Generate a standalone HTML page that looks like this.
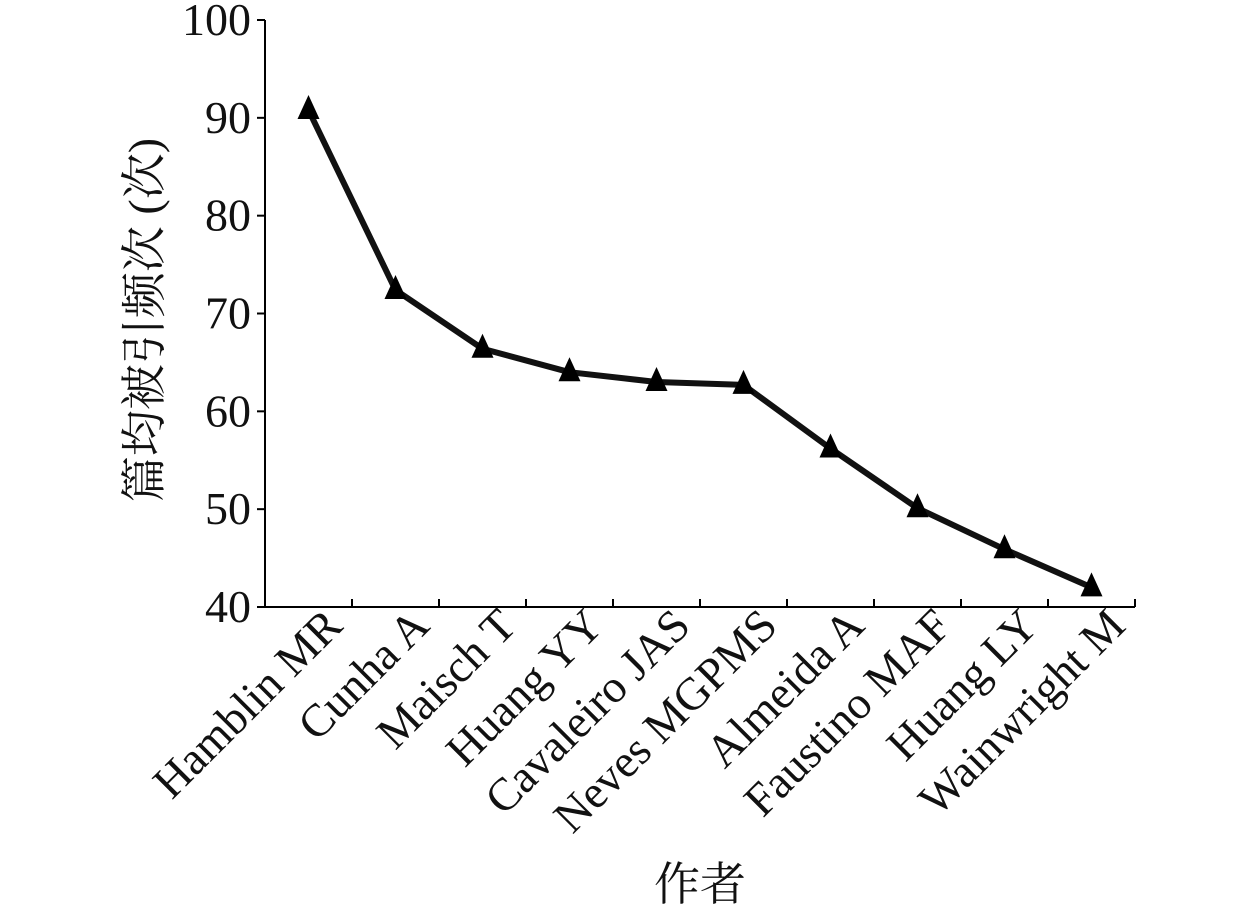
<!DOCTYPE html>
<html><head><meta charset="utf-8"><style>
html,body{margin:0;padding:0;background:#fff;}
svg{display:block;font-family:"Liberation Serif","Noto Serif CJK SC",serif;}
</style></head><body>
<svg id="chart" width="1260" height="914" viewBox="0 0 1260 914"></svg>
<script>
const categories=["Hamblin MR","Cunha A","Maisch T","Huang YY","Cavaleiro JAS","Neves MGPMS","Almeida A","Faustino MAF","Huang LY","Wainwright M"];
const values=[90.8,72.4,66.4,64.0,63.0,62.7,56.2,50.1,45.9,42.0];
const yTicks=[40,50,60,70,80,90,100];
const NS="http://www.w3.org/2000/svg";
const svg=document.getElementById('chart');
const x0=265,x1=1135,yTop=20,yBot=607,yMin=40,yMax=100;
const band=(x1-x0)/categories.length;
function xPos(i){return x0+band*(i+0.5);}
function yPos(v){return yBot-(v-yMin)/(yMax-yMin)*(yBot-yTop);}
function mk(tag,attrs,parent){const e=document.createElementNS(NS,tag);for(const k in attrs)e.setAttribute(k,attrs[k]);(parent||svg).appendChild(e);return e;}
let ax=mk('line',{x1:x0,y1:yTop,x2:x0,y2:yBot,stroke:'#000','stroke-width':2});


let bx=mk('line',{x1:x0,y1:yBot,x2:x1,y2:yBot,stroke:'#000','stroke-width':2});


yTicks.forEach(v=>{
  const y=yPos(v);
  const t=mk('line',{x1:x0-8,y1:y,x2:x0,y2:y,stroke:'#000','stroke-width':2});
  
  
  const l=mk('text',{x:x0-14,y:y+15,'text-anchor':'end','font-size':46,fill:'#111'});
  l.textContent=v;
  
  
});
for(let i=1;i<=categories.length;i++){
  const x=x0+band*i;
  const t=mk('line',{x1:x,y1:yBot-8,x2:x,y2:yBot,stroke:'#000','stroke-width':2});
  
  
}
categories.forEach((c,i)=>{
  const x=xPos(i)+36,y=628;
  const l=mk('text',{x:x,y:y,'text-anchor':'end','font-size':46,fill:'#111',transform:`rotate(-45 ${x} ${y})`});
  l.textContent=c;
  
  
});
const pts=values.map((v,i)=>xPos(i)+','+yPos(v)).join(' ');
const line=mk('polyline',{points:pts,fill:'none',stroke:'#111','stroke-width':6,'stroke-linejoin':'round'});


values.forEach((v,i)=>{
  const x=xPos(i),y=yPos(v);
  const m=mk('polygon',{points:`${x},${y-15} ${x-11},${y+9} ${x+11},${y+9}`,fill:'#000'});
  
  
});
const yt=mk('text',{x:0,y:0,'text-anchor':'middle','font-size':46,fill:'#111',transform:'translate(160 320) rotate(-90)'});
yt.textContent='篇均被引频次 (次)';


const xt=mk('text',{x:700,y:900,'text-anchor':'middle','font-size':46,fill:'#111'});
xt.textContent='作者';


</script>
</body></html>
